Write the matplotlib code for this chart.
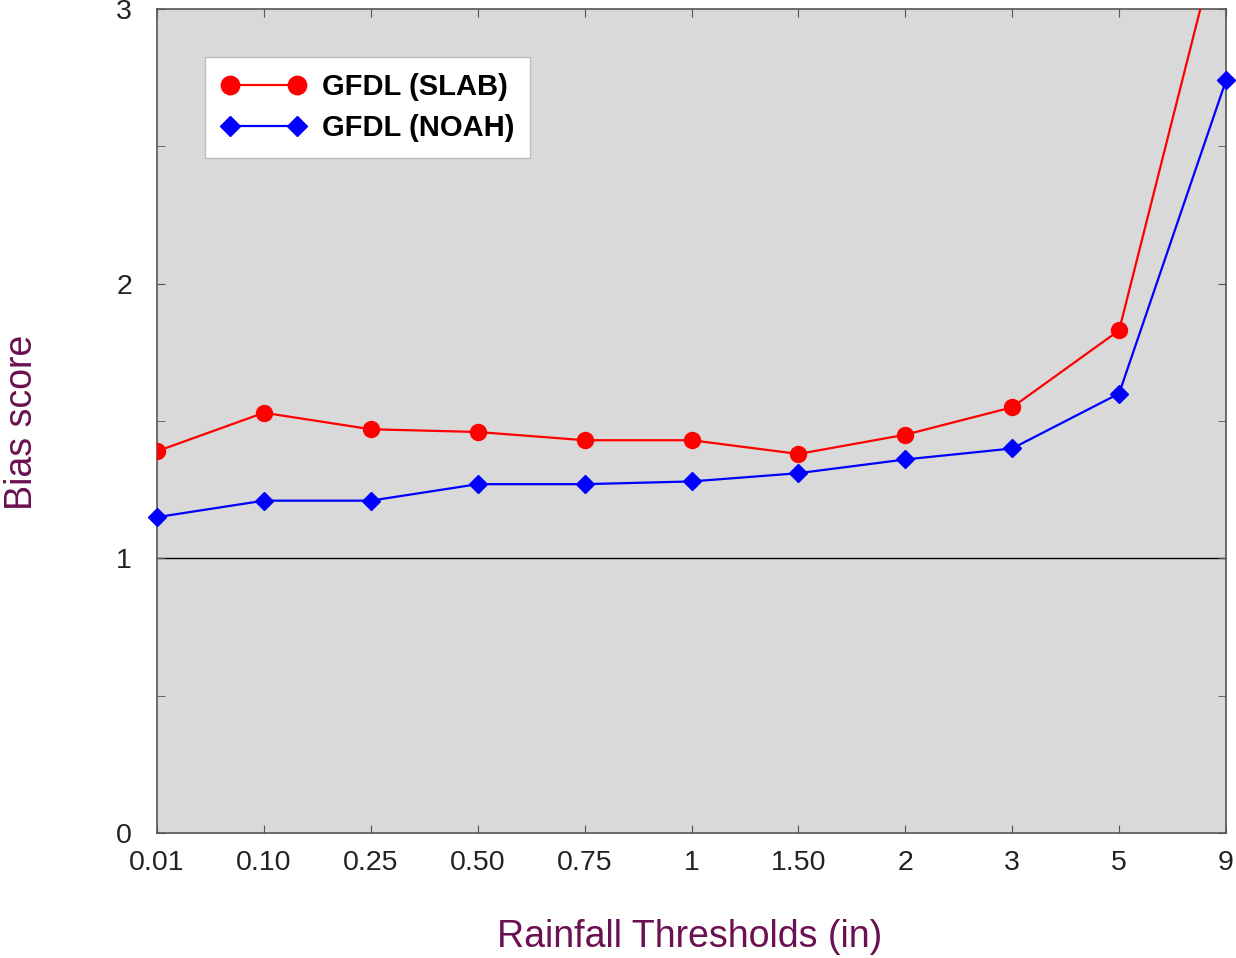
import matplotlib
matplotlib.use("Agg")
import matplotlib.pyplot as plt
import numpy as np

thresholds = ["0.01", "0.10", "0.25", "0.50", "0.75", "1", "1.50", "2", "3", "5", "9"]
slab = [1.39, 1.53, 1.47, 1.46, 1.43, 1.43, 1.38, 1.45, 1.55, 1.83, 3.37]
noah = [1.15, 1.21, 1.21, 1.27, 1.27, 1.28, 1.31, 1.36, 1.40, 1.60, 2.74]
y_ticks = [0, 1, 2, 3]

plt.rcParams['font.family'] = ['Liberation Sans', 'DejaVu Sans']

fig = plt.figure(figsize=(12.36, 9.58), dpi=100)
ax = fig.add_axes([157/1236, 1-833/958, (1226-157)/1236, (833-9)/958])
ax.set_facecolor('#d9d9d9')

x = np.arange(len(thresholds))
ax.axhline(1, color='black', lw=1.0, zorder=1)
ax.plot(x, slab, color='#ff0000', lw=1.6, marker='o', ms=11.5, label='GFDL (SLAB)', zorder=3, clip_on=True)
ax.plot(x, noah, color='#0000ff', lw=1.6, marker='D', ms=9, label='GFDL (NOAH)', zorder=3, clip_on=False)

ax.set_xlim(0, len(thresholds)-1)
ax.set_ylim(0, 3)
ax.set_xticks(x)
ax.set_xticklabels(thresholds, fontsize=20.5, color='#222222')
ax.set_yticks(y_ticks)
ax.set_yticklabels([str(v) for v in y_ticks], fontsize=20.5, color='#222222')
ax.set_yticks([0.5, 1.5, 2.5], minor=True)
ax.tick_params(axis='x', which='both', direction='in', top=True, bottom=True, length=6, pad=12, color='#555555')
ax.tick_params(axis='y', which='both', direction='in', left=True, right=True, length=6, pad=18, color='#555555')
for s in ax.spines.values():
    s.set_color('#555555')
    s.set_linewidth(1.2)

ax.set_xlabel('Rainfall Thresholds (in)', fontsize=27, color='#6b1050')
ax.set_ylabel('Bias score', fontsize=27, color='#6b1050')
ax.xaxis.set_label_coords((690-157)/1069, (833-937)/824)
ax.yaxis.set_label_coords((22-157)/1069, (833-422)/824)
ax.xaxis.label.set_va('center')
ax.yaxis.label.set_va('center')

leg = ax.legend(loc='upper left', bbox_to_anchor=((205-157)/1069, (833-57)/824), borderaxespad=0,
                fancybox=False, framealpha=1, numpoints=2,
                edgecolor='#bbbbbb', prop={'weight': 'bold', 'size': 21}, handlelength=2.9,
                handletextpad=0.55, borderpad=0.55, labelspacing=0.45, markerscale=1.15)
leg.get_frame().set_linewidth(1.0)

fig.savefig('out.png', dpi=100)
